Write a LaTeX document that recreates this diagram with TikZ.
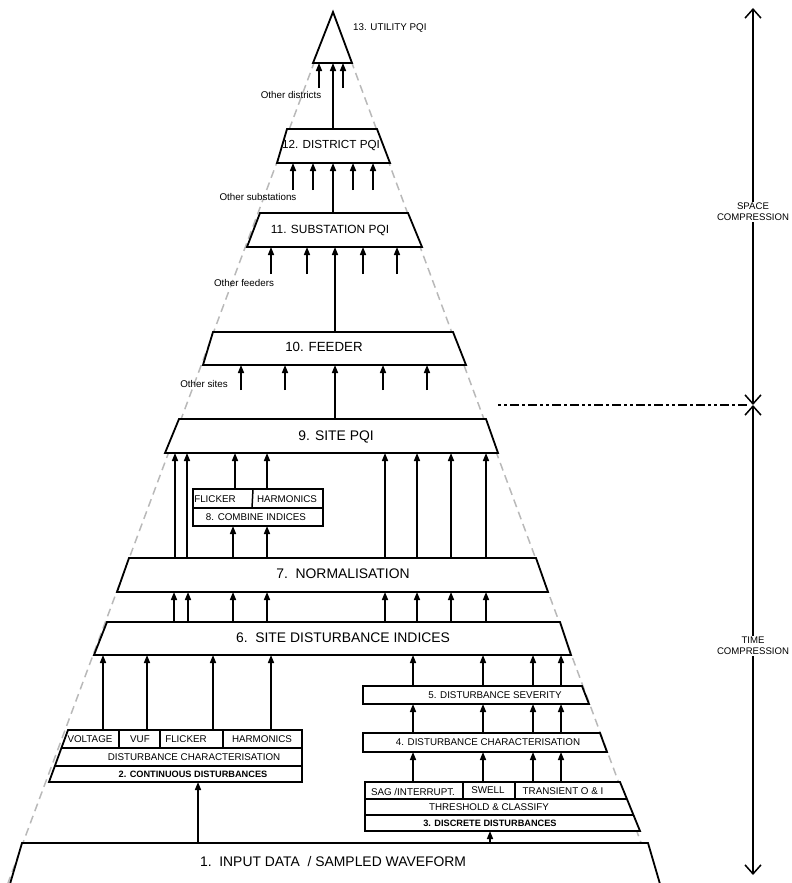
\documentclass[tikz,border=0pt]{standalone}
\usepackage{fontspec}
\setmainfont{Liberation Sans}
\usetikzlibrary{arrows.meta}
\newcommand\fsz[1]{\fontsize{#1}{#1}\selectfont}
\newcommand\uparr[3]{\draw[arr] (#1,0 |- #2) -- (#1,0 |- #3);}
\definecolor{dashgrey}{RGB}{185,185,185}
\begin{document}
\begin{tikzpicture}[x=1pt,y=-1pt,
  box/.style={draw=black, fill=white, line width=1.8pt, line join=miter},
  inner/.style={draw=black, line width=1.5pt},
  arr/.style={line width=1.5pt, -{Triangle[length=8pt,width=6pt]}},
  lbl/.style={inner sep=0pt, font=\fsz{9.8}},
  bold/.style={inner sep=0pt, font=\fsz{9.2}\bfseries},
  big/.style={inner sep=0pt, font=\fsz{13.9}},
  grey/.style={draw=dashgrey, line width=1.5pt, dash pattern=on 8pt off 5pt},
  axis/.style={line width=1.5pt},
  axlbl/.style={fill=white, align=center, inner sep=1.5pt, font=\fontsize{9.6}{10.8}\selectfont},
]
\useasboundingbox (0,0) rectangle (792,883);
% levels
\coordinate (b13) at (0,63);  \coordinate (s13) at (0,88);
\coordinate (t12) at (0,129); \coordinate (b12) at (0,163); \coordinate (s12) at (0,190);
\coordinate (t11) at (0,213); \coordinate (b11) at (0,247); \coordinate (s11) at (0,274);
\coordinate (t10) at (0,332); \coordinate (b10) at (0,365); \coordinate (s10) at (0,390);
\coordinate (t9) at (0,419);  \coordinate (b9) at (0,453);
\coordinate (t8) at (0,489);  \coordinate (b8) at (0,526);
\coordinate (t7) at (0,558);  \coordinate (b7) at (0,592);
\coordinate (t6) at (0,622);  \coordinate (b6) at (0,655);
\coordinate (t5) at (0,686);  \coordinate (b5) at (0,704);
\coordinate (t4) at (0,733);  \coordinate (b4) at (0,752);
\coordinate (t2) at (0,730);  \coordinate (b2) at (0,782);
\coordinate (t3) at (0,782);  \coordinate (b3) at (0,831);
\coordinate (t1) at (0,843);

% dashed pyramid
\coordinate (apex) at (333,12);
\coordinate (pl) at (8,883);
\coordinate (pr) at (656,883);
\draw[grey] (apex) -- (pl);
\draw[grey] (apex) -- (pr);

% 13
\draw[box] (333,12) -- (313,63) -- (352,63) -- cycle;
\node[lbl, anchor=west] (l13) at (353,28) {13. UTILITY PQI};
% 12
\draw[box] (287,129) -- (377,129) -- (390,163) -- (277,163) -- cycle;
\node[inner sep=0pt, font=\fsz{11.7}] (l12) at (331,146) {12. DISTRICT PQI};
% 11
\draw[box] (260,213) -- (408,213) -- (422,247) -- (247,247) -- cycle;
\node[inner sep=0pt, font=\fsz{11.9}] (l11) at (330,230) {11. SUBSTATION PQI};
% 10
\draw[box] (213,332) -- (453,332) -- (466,365) -- (203,365) -- cycle;
\node[inner sep=0pt, font=\fsz{13.3}] (l10) at (324,347) {10. FEEDER};
% 9
\draw[box] (179,419) -- (486,419) -- (498,453) -- (165,453) -- cycle;
\node[big] (l9) at (336,437) {9. SITE PQI};
% 8
\draw[box] (193,489) rectangle (323,526);
\draw[inner] (193,508) -- (323,508);
\draw[inner] (253,489) -- (252,508);
\node[lbl] (l8a) at (215,499) {FLICKER};
\node[lbl] (l8b) at (287,499) {HARMONICS};
\node[lbl] (l8) at (256,517) {8. COMBINE INDICES};
% 7
\draw[box] (129,558) -- (536,558) -- (548,592) -- (117,592) -- cycle;
\node[big] (l7) at (343,574) {7.\ \ NORMALISATION};
% 6
\draw[box] (107,622) -- (560,622) -- (571,655) -- (94,655) -- cycle;
\node[big] (l6) at (343,638) {6.\ \ SITE DISTURBANCE INDICES};
% 2 continuous
\draw[box] (68,730) -- (302,730) -- (302,782) -- (49,782) -- cycle;
\draw[inner] (61.4,748) -- (302,748);
\draw[inner] (54.8,766) -- (302,766);
\draw[inner] (119,730) -- (119,748);
\draw[inner] (160,730) -- (160,748);
\draw[inner] (223,730) -- (223,748);
\node[lbl] (l2a) at (90,739) {VOLTAGE};
\node[lbl] (l2b) at (140,739) {VUF};
\node[lbl] (l2c) at (186,739) {FLICKER};
\node[lbl] (l2d) at (262,739) {HARMONICS};
\node[lbl] (l2e) at (194,757) {DISTURBANCE CHARACTERISATION};
\node[bold] (l2) at (193,774) {2. CONTINUOUS DISTURBANCES};
% 5
\draw[box] (363,686) -- (582,686) -- (589,704) -- (363,704) -- cycle;
\node[lbl] (l5) at (495,695) {5. DISTURBANCE SEVERITY};
% 4
\draw[box] (363,733) -- (600,733) -- (607,752) -- (363,752) -- cycle;
\node[lbl] (l4) at (488,742) {4. DISTURBANCE CHARACTERISATION};
% 3 discrete
\draw[box] (365,782) -- (620,782) -- (640,831) -- (365,831) -- cycle;
\draw[inner] (365,799) -- (626.9,799);
\draw[inner] (365,815) -- (633.5,815);
\draw[inner] (463,782) -- (463,799);
\draw[inner] (515,782) -- (515,799);
\node[lbl] (l3a) at (413,792) {SAG /INTERRUPT.};
\node[lbl] (l3b) at (488,790) {SWELL};
\node[lbl] (l3c) at (563,791) {TRANSIENT O \& I};
\node[lbl] (l3d) at (489,807) {THRESHOLD \& CLASSIFY};
\node[bold] (l3) at (490,823) {3. DISCRETE DISTURBANCES};
% 1
\draw[box] (22,843) -- (648,843) -- (660,884) -- (10,884) -- cycle;
\node[big] (l1) at (333,862) {1.\ \ INPUT DATA\ \ / SAMPLED WAVEFORM};

% side labels
\node[lbl] (od) at (291,95) {Other districts};
\node[lbl] (os) at (258,197) {Other substations};
\node[lbl] (of) at (244,283) {Other feeders};
\node[lbl] (osi) at (204,384) {Other sites};

% arrows
\uparr{319}{s13}{b13} \uparr{343}{s13}{b13} \uparr{333}{t12}{b13}
\uparr{293}{s12}{b12} \uparr{313}{s12}{b12} \uparr{353}{s12}{b12} \uparr{373}{s12}{b12} \uparr{333}{t11}{b12}
\uparr{271}{s11}{b11} \uparr{307}{s11}{b11} \uparr{363}{s11}{b11} \uparr{397}{s11}{b11} \uparr{335}{t10}{b11}
\uparr{241}{s10}{b10} \uparr{285}{s10}{b10} \uparr{383}{s10}{b10} \uparr{427}{s10}{b10} \uparr{335}{t9}{b10}
\uparr{175}{t7}{b9} \uparr{187}{t7}{b9} \uparr{235}{t8}{b9} \uparr{267}{t8}{b9}
\uparr{385}{t7}{b9} \uparr{417}{t7}{b9} \uparr{451}{t7}{b9} \uparr{486}{t7}{b9}
\uparr{233}{t7}{b8} \uparr{267}{t7}{b8}
\uparr{174}{t6}{b7} \uparr{188}{t6}{b7} \uparr{385}{t6}{b7} \uparr{417}{t6}{b7} \uparr{451}{t6}{b7} \uparr{486}{t6}{b7}
\uparr{103}{t2}{b6} \uparr{147}{t2}{b6} \uparr{213}{t2}{b6} \uparr{271}{t2}{b6}
\uparr{413}{t5}{b6} \uparr{483}{t5}{b6} \uparr{533}{t5}{b6} \uparr{561}{t5}{b6}
\uparr{413}{t4}{b5} \uparr{483}{t4}{b5} \uparr{533}{t4}{b5} \uparr{561}{t4}{b5}
\uparr{413}{t3}{b4} \uparr{483}{t3}{b4} \uparr{533}{t3}{b4} \uparr{561}{t3}{b4}
\uparr{198}{t1}{b2} \uparr{490}{t1}{b3}
\draw[arr] (233,0 |- t6) -- (233,0 |- b7);
\draw[arr] (267,0 |- t6) -- (267,0 |- b7);

% right axis
\coordinate (ax0) at (753,8);
\coordinate (axm) at (753,405);
\coordinate (ax1) at (753,875);
\draw[axis, {Straight Barb[length=9pt,width=16pt]}-{Straight Barb[length=9pt,width=16pt]}] (axm) -- (ax0);
\draw[axis, {Straight Barb[length=9pt,width=16pt]}-{Straight Barb[length=9pt,width=16pt]}] (axm) -- (ax1);
\coordinate (dd0) at (498,405);
\coordinate (dd1) at (749,405);
\draw[line width=2.2pt, dash pattern=on 3pt off 3pt on 3pt off 3pt on 9pt off 3pt on 3pt off 3pt on 9pt off 3pt] (dd0) -- (dd1);
\node[axlbl] (sc) at (753,212) {SPACE\\COMPRESSION};
\node[axlbl] (tc) at (753,646) {TIME\\COMPRESSION};
\end{tikzpicture}
\end{document}
